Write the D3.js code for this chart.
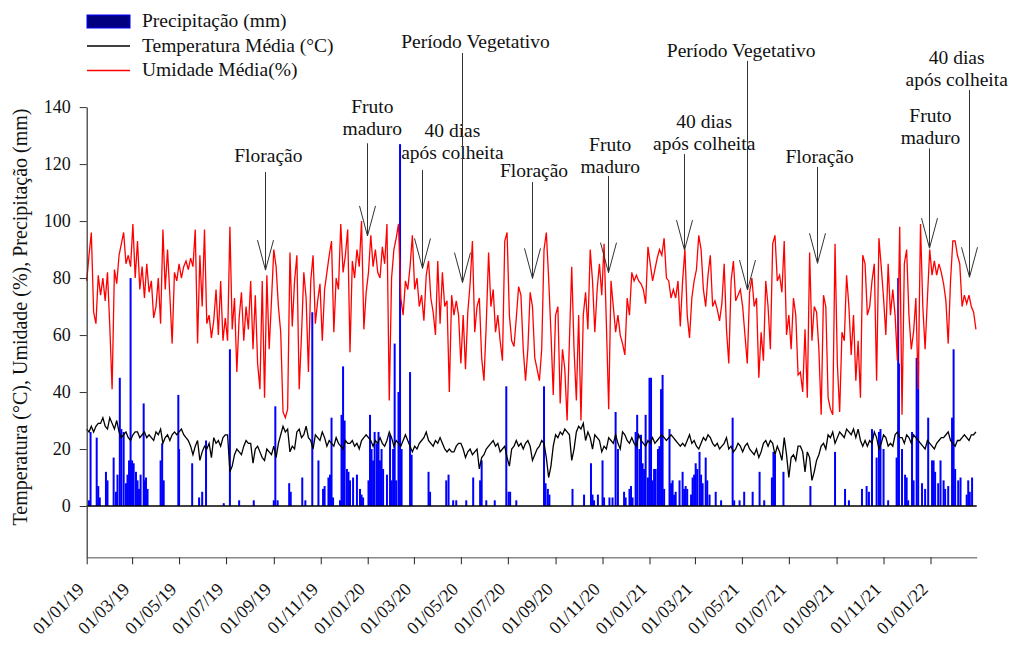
<!DOCTYPE html>
<html><head><meta charset="utf-8">
<script src="https://d3js.org/d3.v7.min.js"></script>
<style>
body{margin:0;background:#fff}
svg text{font-family:"Liberation Serif","Times New Roman",serif;fill:#111}
</style>
</head><body>
<svg id="chart" width="1012" height="650"></svg>
<script>
// ---------------- DATA ----------------
const startDate = "2019-01-01";
const endDate = "2022-03-02";
const stepDays = 3; // humidity & temperature sampled every 3 days from startDate

const humidity = [
79,88,96,68,64,81,74,80,72,82,
63,41,83,78,88,92,96,85,88,84,
99,80,93,76,84,73,85,75,79,66,
70,80,64,97,76,90,74,57,82,79,
85,80,84,86,83,87,84,97,57,88,
70,97,64,67,59,65,76,60,79,58,
66,58,98,62,73,47,66,75,58,70,
62,79,55,74,50,41,79,38,81,55,
72,90,84,70,61,33,31,34,89,63,
79,88,41,60,82,73,47,79,88,64,
72,78,58,76,82,88,93,61,80,76,
99,82,88,97,54,86,80,90,84,100,
62,75,82,95,84,90,82,80,91,85,
99,37,80,90,94,99,73,67,79,76,
84,95,76,80,70,74,65,81,86,73,
68,60,86,64,82,70,72,40,74,67,
72,67,50,67,48,68,78,93,61,70,
73,52,44,64,89,70,76,61,67,58,
51,93,96,67,58,56,66,77,74,55,
44,55,75,70,52,48,44,55,90,96,
80,61,39,67,70,36,55,48,30,58,
84,55,37,67,30,67,75,62,90,79,
61,76,85,74,92,64,34,79,70,61,
67,60,57,53,73,67,82,79,81,79,
78,76,71,91,85,79,83,87,90,88,
94,80,79,73,76,73,79,63,79,90,
67,59,73,79,83,95,90,76,70,81,
88,70,72,69,65,71,85,62,50,79,
86,72,74,76,70,60,50,75,80,70,
73,45,61,51,79,70,55,92,95,79,
81,75,93,60,67,55,73,67,46,47,
40,62,38,89,58,70,68,55,32,74,
70,38,34,32,92,50,33,61,58,81,
70,53,67,44,58,38,88,85,67,70,
79,85,44,94,84,73,60,85,67,76,
67,51,98,32,85,90,67,55,61,73,
41,99,70,55,73,90,81,86,81,85,
82,78,72,57,79,93,93,88,85,70,
74,71,74,70,68,62
];

const temperature = [
27,26,28,26,28,29,29,31,28,27,
31,29,27,30,26,24,25,26,24,23,
25,26,26,24,25,26,24,25,24,23,
26,25,27,22,24,25,23,25,26,25,
26,27,25,24,23,21,18,21,23,16,
19,21,20,22,17,24,22,23,21,24,
25,25,12,14,18,20,19,18,21,23,
22,22,15,20,21,19,17,16,20,19,
18,21,17,22,25,28,26,27,19,21,
20,26,27,24,25,28,24,23,20,25,
24,23,26,24,21,23,22,21,24,22,
21,20,23,22,22,23,21,22,20,23,
24,25,24,23,21,23,22,24,22,21,
23,26,24,21,23,22,21,23,25,23,
21,19,21,20,22,23,24,26,23,22,
21,23,22,24,22,20,19,20,19,19,
21,22,22,20,17,19,20,18,19,20,
13,17,18,20,21,22,23,21,22,19,
20,21,17,14,20,21,23,21,22,20,
22,23,21,16,18,20,21,23,22,17,
10,14,21,25,24,26,25,27,26,25,
16,20,26,28,27,29,23,26,24,20,
25,24,23,19,21,20,24,23,22,25,
22,20,26,25,23,22,24,22,21,25,
23,22,21,23,22,24,22,23,24,25,
24,23,24,25,24,23,22,21,22,21,
23,25,22,23,21,20,22,24,23,25,
24,22,21,22,20,21,22,24,20,21,
19,20,22,21,19,21,22,20,19,18,
20,17,19,22,23,21,23,22,18,21,
19,16,24,18,10,17,18,16,21,21,
19,12,19,17,9,12,16,18,21,22,
20,25,24,26,22,24,26,25,24,27,
26,25,27,24,27,23,21,23,21,23,
22,26,24,20,22,25,24,21,22,21,
25,26,24,24,22,25,24,22,25,24,
23,22,21,20,23,22,21,20,22,23,
24,24,25,26,23,22,21,23,23,24,
25,24,23,25,25,26
];

// precipitation: [day since startDate] and [mm]
const precipDays = [
3,5,13,15,17,25,27,35,38,40,43,45,48,51,53,55,57,58,59,61,64,66,68,70,74,75,77,79,96,98,100,119,120,137,146,150,155,178,186,198,217,243,245,248,263,265,280,284,293,
301,307,309,314,316,318,320,329,331,333,335,338,340,342,346,351,355,357,359,366,368,370,372,374,377,379,381,383,385,390,394,396,398,400,402,405,407,409,420,422,444,446,467,470,476,480,493,502,511,513,519,530,545,548,550,558,
594,596,599,601,631,646,655,657,659,664,670,672,679,683,687,690,698,700,705,707,709,713,715,718,720,722,724,726,729,731,733,735,737,739,742,744,746,748,750,757,759,761,763,765,770,774,776,778,780,785,787,789,791,793,796,798,800,804,806,809,817,824,839,841,848,854,865,874,880,
890,892,894,905,940,972,985,990,1007,1013,1016,1020,1026,1029,1031,1035,1041,1052,1054,1055,1059,1063,1065,1067,1072,1074,1078,1080,1085,1089,1093,1098,1100,1102,1106,1109,1113,1115,1119,1124,1126,1128,1132,1135,1143,1145,1147,1150
];
const precipMm = [
2,26,24,7,3,12,9,17,5,11,45,27,26,8,11,16,80,15,16,15,12,9,6,11,36,9,10,6,16,22,9,39,20,15,3,5,23,1,55,2,2,2,35,2,8,5,10,2,68,
16,6,7,10,11,31,3,2,32,49,30,13,12,9,10,11,6,4,3,9,32,20,16,26,22,26,16,20,13,11,25,9,20,57,9,40,127,20,47,18,12,5,9,11,2,2,2,10,9,16,2,2,42,5,5,2,
42,8,6,4,6,4,15,4,2,4,16,3,3,3,33,20,5,3,6,7,3,26,32,20,25,15,13,32,10,45,45,9,13,13,20,21,41,46,6,27,8,9,4,5,9,12,6,7,6,4,10,11,15,13,19,11,8,17,9,4,5,2,31,2,2,5,5,12,2,
10,19,18,12,7,19,6,2,6,7,5,27,17,26,27,20,2,17,80,50,20,11,10,2,26,9,52,51,8,6,31,16,16,12,8,16,9,6,7,31,55,13,9,10,4,9,5,10
];

const yTicks = [0,20,40,60,80,100,120,140];
const xTickDates = ["2019-01-01","2019-03-01","2019-05-01","2019-07-01","2019-09-01","2019-11-01",
  "2020-01-01","2020-03-01","2020-05-01","2020-07-01","2020-09-01","2020-11-01",
  "2021-01-01","2021-03-01","2021-05-01","2021-07-01","2021-09-01","2021-11-01","2022-01-01"];

const seriesNames = ["Precipitação (mm)","Temperatura Média (°C)","Umidade Média(%)"];
const yTitle = "Temperatura (°C), Umidade (%), Precipitação (mm)";

// annotation: lines, tip date/value, label centre date, label baseline value (last line), line top value
const annLines = [["Floração"],["Fruto","maduro"],["40 dias","após colheita"],["Período Vegetativo"],
  ["Floração"],["Fruto","maduro"],["40 dias","após colheita"],["Período Vegetativo"],
  ["Floração"],["Fruto","maduro"],["40 dias","após colheita"]];
const annTipDate = ["2019-08-20","2019-12-31","2020-03-11","2020-05-02","2020-08-01","2020-11-08",
  "2021-02-15","2021-05-08","2021-08-06","2021-12-30","2022-02-20"];
const annTipVal = [82.8,94.8,83.4,78.4,79.9,81.9,89.8,75.8,85.2,90.5,80.3];
const annLabelDate = ["2019-08-25","2020-01-07","2020-04-20","2020-05-20","2020-08-04","2020-11-11",
  "2021-03-13","2021-04-30","2021-08-10","2022-01-01","2022-02-04"];
const annLabelVal = [120.7,130.2,121.8,160.7,115.5,116.9,124.9,157.6,120.4,126.9,147.4];
const annLineTop = [117.2,127.3,117.9,159.0,113.7,115.8,123.5,156.2,119.0,125.5,146.0];

// ---------------- CHART ----------------
const parse = d3.utcParse("%Y-%m-%d");
const t0 = parse(startDate);
const dayAt = d => new Date(t0.getTime() + d * 864e5);

const svg = d3.select("#chart");
const x = d3.scaleUtc().domain([parse(startDate), parse(endDate)]).range([86.7, 976.7]);
const y = d3.scaleLinear().domain([-18, 140]).range([557.3, 107.1]);

// precipitation bars
svg.append("g").selectAll("rect").data(precipDays).join("rect")
  .attr("x", (d) => x(dayAt(d)) - 1)
  .attr("width", 2)
  .attr("y", (d, i) => y(precipMm[i]))
  .attr("height", (d, i) => y(0) - y(precipMm[i]))
  .attr("fill", "#0000ff");

// zero line
svg.append("line").attr("x1", x.range()[0]).attr("x2", x.range()[1])
  .attr("y1", y(0)).attr("y2", y(0)).attr("stroke", "#000").attr("stroke-width", 1.6);

// temperature
const line = d3.line().x((d, i) => x(dayAt(i * stepDays))).y(d => y(d));
svg.append("path").datum(temperature).attr("d", line)
  .attr("fill", "none").attr("stroke", "#000").attr("stroke-width", 1.3);

// humidity
svg.append("path").datum(humidity).attr("d", line)
  .attr("fill", "none").attr("stroke", "#ff0000").attr("stroke-width", 1.3);

// axes
const yAxis = svg.append("g").attr("transform", `translate(${x.range()[0]},0)`)
  .call(d3.axisLeft(y).tickValues(yTicks).tickSize(7).tickSizeOuter(0).tickPadding(9));
yAxis.select(".domain").attr("stroke", "#333").attr("stroke-width", 1.2);
yAxis.selectAll(".tick line").attr("stroke", "#333");
yAxis.selectAll("text").attr("font-size", 18).attr("font-family", "Liberation Serif").attr("fill", "#111");

const fmt = d3.utcFormat("%d/%m/%y");
const xAxis = svg.append("g").attr("transform", `translate(0,${y.range()[0]})`)
  .call(d3.axisBottom(x).tickValues(xTickDates.map(parse)).tickFormat(fmt).tickSize(7).tickSizeOuter(0));
xAxis.select(".domain").attr("stroke", "#888").attr("stroke-width", 1.5);
xAxis.selectAll(".tick line").attr("stroke", "#222");
xAxis.selectAll("text").attr("y", null).attr("dy", null)
  .attr("text-anchor", "end").attr("font-size", 18).attr("font-family", "Liberation Serif").attr("fill", "#111")
  .attr("transform", "translate(-2,33) rotate(-45)");

// y title
svg.append("text").attr("transform", "translate(27,317) rotate(-90)")
  .attr("text-anchor", "middle").attr("font-size", 20).text(yTitle);

// legend
const lg = svg.append("g").attr("font-size", 19.5);
lg.append("rect").attr("x", 87).attr("y", 15).attr("width", 43).attr("height", 13)
  .attr("fill", "#000080").attr("stroke", "#0000ff").attr("stroke-width", 1);
lg.append("line").attr("x1", 87).attr("x2", 130).attr("y1", 46).attr("y2", 46).attr("stroke", "#000").attr("stroke-width", 1.5);
lg.append("line").attr("x1", 87).attr("x2", 130).attr("y1", 70.5).attr("y2", 70.5).attr("stroke", "#ff0000").attr("stroke-width", 1.5);
lg.selectAll("text").data(seriesNames).join("text")
  .attr("x", 142).attr("y", (d, i) => [27, 52, 76][i]).text(d => d);

// annotations
const ag = svg.append("g");
annLines.forEach((lines, k) => {
  const tx = Math.round(x(parse(annTipDate[k]))) + 0.5, ty = y(annTipVal[k]);
  ag.append("line").attr("x1", tx).attr("x2", tx).attr("y1", y(annLineTop[k])).attr("y2", ty)
    .attr("stroke", "#333").attr("stroke-width", 1);
  ag.append("path").attr("d", `M${tx - 8},${ty - 30}L${tx},${ty}L${tx + 8},${ty - 30}`)
    .attr("fill", "none").attr("stroke", "#333").attr("stroke-width", 1);
  const cx = x(parse(annLabelDate[k])), by = y(annLabelVal[k]);
  lines.forEach((t, i) => {
    ag.append("text").attr("x", cx).attr("y", by - (lines.length - 1 - i) * 22)
      .attr("text-anchor", "middle").attr("font-size", 19.5).text(t);
  });
});
</script>
</body></html>
